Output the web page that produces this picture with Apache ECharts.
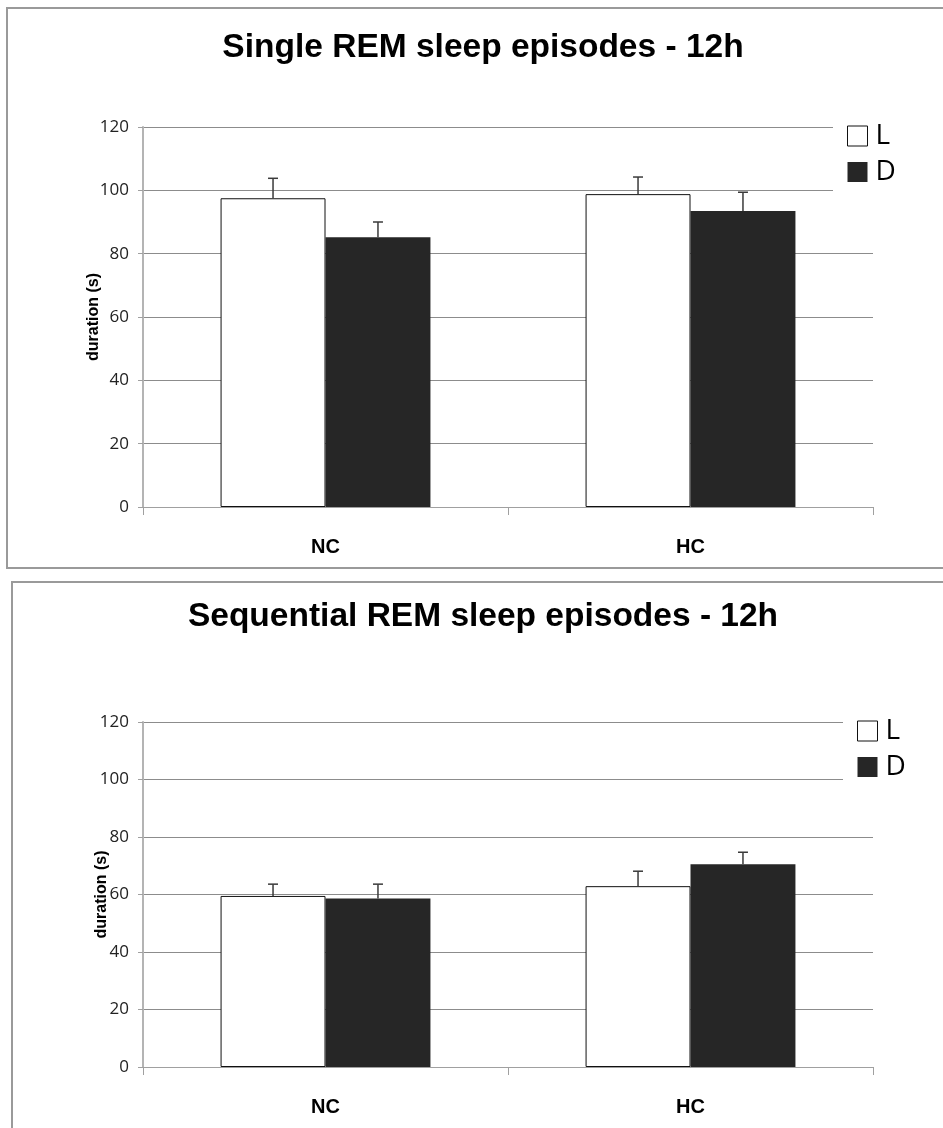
<!DOCTYPE html>
<html>
<head>
<meta charset="utf-8">
<script src="https://cdn.jsdelivr.net/npm/echarts@6/dist/echarts.min.js"></script>
<style>
  html, body { margin: 0; padding: 0; background: #fff; }
  #chart { width: 943px; height: 1128px; }
</style>
</head>
<body>
<div id="chart"></div>
<script>
// Groups on the x axis
const categories = ['NC', 'HC'];

// Single REM sleep episodes (mean duration in s, upper SEM)
const singleL = [97.5, 98.8];
const singleLErr = [6.3, 5.4];
const singleD = [85.2, 93.5];
const singleDErr = [4.8, 5.9];

// Sequential REM sleep episodes (mean duration in s, upper SEM)
const seqL = [59.5, 62.9];
const seqLErr = [4.1, 5.2];
const seqD = [58.6, 70.5];
const seqDErr = [5.0, 4.2];

// Value axis range shared by both panels
const yMin = 0, yMax = 120, yStep = 20;

const BAR_CAT_GAP = 0.425;
const FONT_ARIAL = '"Liberation Sans", Arial, sans-serif';
const FONT_TICK = '"Open Sans", "Noto Sans", sans-serif';

// Upper error whisker drawn on top of the L (side -1) or D (side +1) bar
function whisker(side) {
  return function (params, api) {
    const idx = api.value(0);
    const v = api.value(1);
    const e = api.value(2);
    const base = api.coord([idx, v]);
    const top = api.coord([idx, v + e]);
    const band = api.size([1, 0])[0];
    const cx = base[0] + side * band * (1 - BAR_CAT_GAP) / 4;
    const style = { stroke: '#3a3a3a', lineWidth: 1.5 };
    return {
      type: 'group',
      children: [
        { type: 'line', shape: { x1: cx, y1: base[1], x2: cx, y2: top[1] }, style: style },
        { type: 'line', shape: { x1: cx - 5, y1: top[1], x2: cx + 5, y2: top[1] }, style: style }
      ]
    };
  };
}

function toTriples(vals, errs) {
  return vals.map((v, i) => [i, v, errs[i]]);
}

function xAxisFor(gridIndex) {
  return {
    type: 'category',
    gridIndex: gridIndex,
    data: categories,
    axisLine: { lineStyle: { color: '#a0a0a0', width: 1 } },
    axisTick: { show: true, length: 8, lineStyle: { color: '#a0a0a0' } },
    axisLabel: {
      margin: 30,
      fontFamily: FONT_ARIAL, fontWeight: 'bold', fontSize: 20, color: '#000'
    }
  };
}

function yAxisFor(gridIndex, nameGap) {
  return {
    type: 'value',
    gridIndex: gridIndex,
    min: yMin, max: yMax, interval: yStep,
    name: 'duration (s)',
    nameLocation: 'middle',
    nameGap: nameGap,
    nameMoveOverlap: false,
    nameRotate: 90,
    nameTextStyle: { fontFamily: FONT_ARIAL, fontWeight: 'bold', fontSize: 16, color: '#000' },
    axisLine: { show: true, lineStyle: { color: '#b4b4b4', width: 2 } },
    axisTick: { show: true, length: 5, lineStyle: { color: '#a0a0a0' } },
    axisLabel: { margin: 14, fontFamily: FONT_TICK, fontSize: 17, color: '#222' },
    splitLine: { lineStyle: { color: '#8c8c8c', width: 1 } }
  };
}

function legendAt(left, top) {
  return {
    left: left, top: top,
    orient: 'vertical',
    backgroundColor: '#fff',
    padding: [7, 14, 7, 14],
    itemWidth: 20, itemHeight: 20, itemGap: 8,
    textStyle: { fontFamily: FONT_TICK, fontSize: 28, color: '#000', padding: [0, 0, 0, 3] },
    data: [
      { name: 'L', icon: 'rect', itemStyle: { color: '#fff', borderColor: '#111', borderWidth: 1 } },
      { name: 'D', icon: 'rect', itemStyle: { color: '#262626', borderWidth: 0 } }
    ]
  };
}

function barsFor(idx, lVals, lErr, dVals, dErr) {
  return [
    {
      name: 'L', type: 'bar', xAxisIndex: idx, yAxisIndex: idx,
      data: lVals, barGap: '0%', barCategoryGap: (BAR_CAT_GAP * 100) + '%',
      itemStyle: { color: '#fff', borderColor: '#111', borderWidth: 1 }
    },
    {
      name: 'D', type: 'bar', xAxisIndex: idx, yAxisIndex: idx,
      data: dVals, barGap: '0%', barCategoryGap: (BAR_CAT_GAP * 100) + '%',
      itemStyle: { color: '#262626' }
    },
    {
      name: 'L SEM', type: 'custom', xAxisIndex: idx, yAxisIndex: idx, z: 5,
      renderItem: whisker(-1), data: toTriples(lVals, lErr), encode: { x: 0, y: 1 }
    },
    {
      name: 'D SEM', type: 'custom', xAxisIndex: idx, yAxisIndex: idx, z: 5,
      renderItem: whisker(1), data: toTriples(dVals, dErr), encode: { x: 0, y: 1 }
    }
  ];
}

const chart = echarts.init(document.getElementById('chart'), null, { renderer: 'canvas' });

chart.setOption({
  animation: false,
  backgroundColor: '#fff',
  graphic: [
    { type: 'rect', z: -10, shape: { x: 7, y: 8, width: 960, height: 560 },
      style: { fill: 'none', stroke: '#9a9a9a', lineWidth: 2 } },
    { type: 'rect', z: -10, shape: { x: 12, y: 582, width: 960, height: 600 },
      style: { fill: 'none', stroke: '#9a9a9a', lineWidth: 2 } }
  ],
  title: [
    {
      text: 'Single REM sleep episodes - 12h', left: 478, textAlign: 'center', top: 26,
      textStyle: { fontFamily: FONT_ARIAL, fontWeight: 'bold', fontSize: 33.5, color: '#000' }
    },
    {
      text: 'Sequential REM sleep episodes - 12h', left: 478, textAlign: 'center', top: 595,
      textStyle: { fontFamily: FONT_ARIAL, fontWeight: 'bold', fontSize: 33.5, color: '#000' }
    }
  ],
  legend: [legendAt(833, 115), legendAt(843, 710)],
  grid: [
    { left: 143, top: 127, width: 730, height: 380 },
    { left: 143, top: 722, width: 730, height: 345 }
  ],
  xAxis: [xAxisFor(0), xAxisFor(1)],
  yAxis: [yAxisFor(0, 41), yAxisFor(1, 33)],
  series: [
    ...barsFor(0, singleL, singleLErr, singleD, singleDErr),
    ...barsFor(1, seqL, seqLErr, seqD, seqDErr)
  ]
});
</script>
</body>
</html>
